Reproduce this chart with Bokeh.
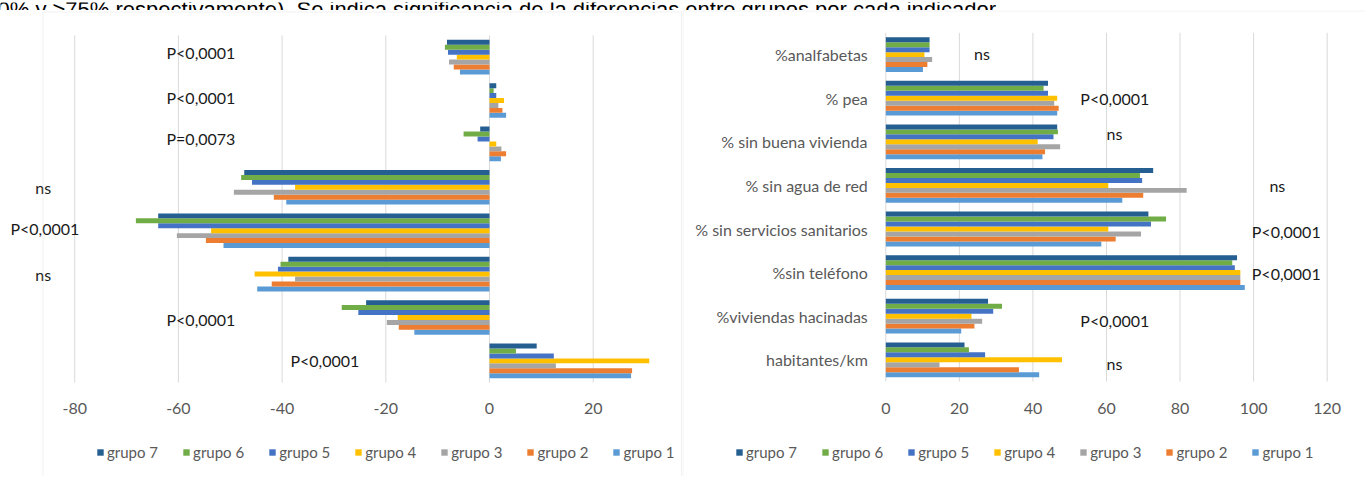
from bokeh.plotting import figure
from bokeh.layouts import column, row
from bokeh.models import (ColumnDataSource, FixedTicker, Legend, LegendItem,
                          BoxAnnotation, Range1d)
from bokeh.core.properties import value
from bokeh.embed import file_html
from bokeh.resources import INLINE

# ---------------- data ----------------
indicators = ["%analfabetas", "% pea", "% sin buena vivienda", "% sin agua de red",
              "% sin servicios sanitarios", "%sin teléfono", "%viviendas hacinadas",
              "habitantes/km"]
groups = ["grupo 1", "grupo 2", "grupo 3", "grupo 4", "grupo 5", "grupo 6", "grupo 7"]
colors = ["#5B9BD5", "#ED7D31", "#A5A5A5", "#FFC000", "#4472C4", "#70AD47", "#255E91"]

# left chart: differences (one list per group, in indicator order)
left_g1 = [-5.7, 3.2, 2.2, -39.2, -51.3, -44.8, -14.5, 27.3]
left_g2 = [-6.9, 2.5, 3.2, -41.6, -54.7, -42.0, -17.5, 27.5]
left_g3 = [-7.8, 1.7, 2.3, -49.3, -60.3, -37.5, -19.8, 12.8]
left_g4 = [-6.3, 2.8, 1.3, -37.5, -53.7, -45.3, -17.7, 30.8]
left_g5 = [-8.0, 1.3, -2.3, -45.8, -63.9, -40.8, -25.3, 12.4]
left_g6 = [-8.6, 0.8, -5.0, -47.9, -68.2, -40.3, -28.5, 5.1]
left_g7 = [-8.2, 1.3, -1.8, -47.3, -63.9, -38.8, -23.8, 9.1]

# right chart: levels (one list per group, in indicator order)
right_g1 = [10.1, 46.6, 42.6, 64.3, 58.6, 97.6, 20.5, 41.7]
right_g2 = [11.3, 47.0, 43.3, 70.0, 62.5, 96.4, 24.1, 36.2]
right_g3 = [12.6, 45.8, 47.4, 81.8, 69.4, 96.4, 26.2, 14.6]
right_g4 = [10.5, 46.6, 41.3, 60.5, 60.5, 96.4, 23.3, 47.9]
right_g5 = [11.9, 44.1, 45.6, 69.7, 72.1, 94.9, 29.2, 27.0]
right_g6 = [11.9, 42.9, 46.8, 69.1, 76.2, 94.2, 31.6, 22.6]
right_g7 = [11.9, 44.1, 46.6, 72.7, 71.4, 95.5, 27.8, 21.4]

left_pvals = ["P<0,0001", "P<0,0001", "P=0,0073", "ns", "P<0,0001", "ns", "P<0,0001", "P<0,0001"]
right_pvals = ["ns", "P<0,0001", "ns", "ns", "P<0,0001", "P<0,0001", "P<0,0001", "ns"]

left_ticks = [-80, -60, -40, -20, 0, 20, 40]
right_ticks = [0, 20, 40, 60, 80, 100, 120]

caption = ("0% y >75% respectivamente). Se indica significancia de la diferencias "
           "entre grupos por cada indicador.")

# ---------------- positions / styles (not data) ----------------
left_p_x = [-62.3, -62.3, -62.3, -87.6, -92.4, -87.6, -62.3, -38.4]
left_p_dy = [0.11, 0.08, 0.13, 0.0, 0.05, 0.0, -0.05, 0.0]
right_p_x = [24.0, 52.9, 60.0, 104.3, 99.5, 99.5, 52.9, 60.0]
right_p_dy = [0.03, 0.0, 0.2, 0.0, -0.05, -0.03, -0.1, -0.08]

BAR_H = 0.114
GRID = "#d9d9d9"
BORDER = "#d0d0d0"
AXIS_TXT = "#595959"
FONT = "Lato"
PANEL_H = 466

left_series = [left_g1, left_g2, left_g3, left_g4, left_g5, left_g6, left_g7]
right_series = [right_g1, right_g2, right_g3, right_g4, right_g5, right_g6, right_g7]

n = len(indicators)
cat_y = [n - 1 - i for i in range(n)]  # first indicator on top


def base_fig(width, x_range, y_range, ticks, standoff):
    p = figure(width=width, height=PANEL_H, x_range=x_range, y_range=y_range,
               output_backend="svg", toolbar_location=None,
               min_border_left=0, min_border_right=0,
               min_border_top=0, min_border_bottom=0)
    p.outline_line_color = None
    p.grid.visible = False
    # vertical grid lines spanning only the category area
    p.segment(x0=ticks, x1=ticks, y0=-0.5, y1=n - 0.5, line_color=GRID, line_width=1)
    ax = p.xaxis[0]
    ax.fixed_location = -0.5
    ax.ticker = FixedTicker(ticks=ticks)
    ax.major_label_overrides = {t: str(t) for t in ticks}
    ax.axis_line_color = None
    ax.major_tick_line_color = None
    ax.minor_tick_line_color = None
    ax.major_tick_out = 0
    ax.major_tick_in = 0
    ax.major_label_standoff = standoff
    ax.major_label_text_font = FONT
    ax.major_label_text_font_size = "16px"
    ax.major_label_text_color = AXIS_TXT
    return p


def add_bars(p, series):
    renderers = []
    for gi, (vals, col) in enumerate(zip(series, colors)):
        off = (gi - 3) * BAR_H
        src = ColumnDataSource(dict(y=[c + off for c in cat_y], v=vals))
        r = p.hbar(y="y", left=0, right="v", height=BAR_H, source=src,
                   fill_color=col, line_color=None)
        renderers.append(r)
    return renderers


def add_legend(p, renderers, x, y):
    items = [LegendItem(label=groups[i], renderers=[renderers[i]]) for i in range(6, -1, -1)]
    lg = Legend(items=items, orientation="horizontal", location=(x, y))
    lg.glyph_width = 8
    lg.glyph_height = 8
    lg.label_standoff = 3
    lg.spacing = 24
    lg.padding = 0
    lg.margin = 0
    lg.label_height = 20
    lg.label_text_font = FONT
    lg.label_text_font_size = "15px"
    lg.label_text_color = AXIS_TXT
    lg.border_line_color = None
    lg.background_fill_alpha = 0
    p.add_layout(lg, "center")


def add_pvals(p, labels, xs, dys):
    src = ColumnDataSource(dict(x=xs, y=[c + d for c, d in zip(cat_y, dys)], t=labels))
    p.text(x="x", y="y", text="t", source=src, text_font=value(FONT),
           text_font_size="16px", text_color="#1a1a1a", text_align="left",
           text_baseline="middle")


def add_border(p, left, top):
    p.add_layout(BoxAnnotation(left=left, right=2000, top=top, bottom=2000,
                               left_units="canvas", right_units="canvas",
                               top_units="canvas", bottom_units="canvas",
                               fill_alpha=0, line_color=BORDER, line_width=1))


# ---------------- left chart ----------------
left = base_fig(682, Range1d(-94.31, 37.22), Range1d(-2.664, 8.074), left_ticks, 20)
left.yaxis.visible = False
add_border(left, 42.5, 1.5)
left.add_layout(BoxAnnotation(left=681.5, right=681.5, top=1.5, bottom=2000,
                              left_units="canvas", right_units="canvas",
                              top_units="canvas", bottom_units="canvas",
                              fill_alpha=0, line_color=BORDER, line_width=1))
lr = add_bars(left, left_series)
add_pvals(left, left_pvals, left_p_x, left_p_dy)
add_legend(left, lr, 96, 14)

# ---------------- right chart ----------------
right = base_fig(683, Range1d(-55.28, 130.43), Range1d(-2.677, 8.012), right_ticks, 21)
ya = right.yaxis[0]
ya.fixed_location = 0
ya.ticker = FixedTicker(ticks=cat_y)
ya.major_label_overrides = {c: lab for c, lab in zip(cat_y, indicators)}
ya.axis_line_color = None
ya.major_tick_line_color = None
ya.minor_tick_line_color = None
ya.major_tick_out = 0
ya.major_tick_in = 0
ya.major_label_standoff = 18
ya.major_label_text_font = FONT
ya.major_label_text_font_size = "16px"
ya.major_label_text_color = AXIS_TXT
add_border(right, 0.5, 0.5)
rr = add_bars(right, right_series)
add_pvals(right, right_pvals, right_p_x, right_p_dy)
add_legend(right, rr, 53, 14)

# ---------------- caption strip (cut text line above the charts) ----------------
strip = figure(width=1365, height=10, x_range=Range1d(0, 1365), y_range=Range1d(0, 10),
               output_backend="svg", toolbar_location=None,
               min_border_left=0, min_border_right=0, min_border_top=0, min_border_bottom=0,
               x_axis_location=None, y_axis_location=None)
strip.outline_line_color = None
strip.grid.visible = False
strip.text(x=[-3], y=[3], text=[caption], text_font=value("Liberation Sans"),
           text_font_size="22px", text_color="#000000", text_baseline="alphabetic",
           text_align="left")

layout = column(strip, row(left, right, spacing=0), spacing=0)

open("out.html", "w").write(file_html(layout, INLINE))
